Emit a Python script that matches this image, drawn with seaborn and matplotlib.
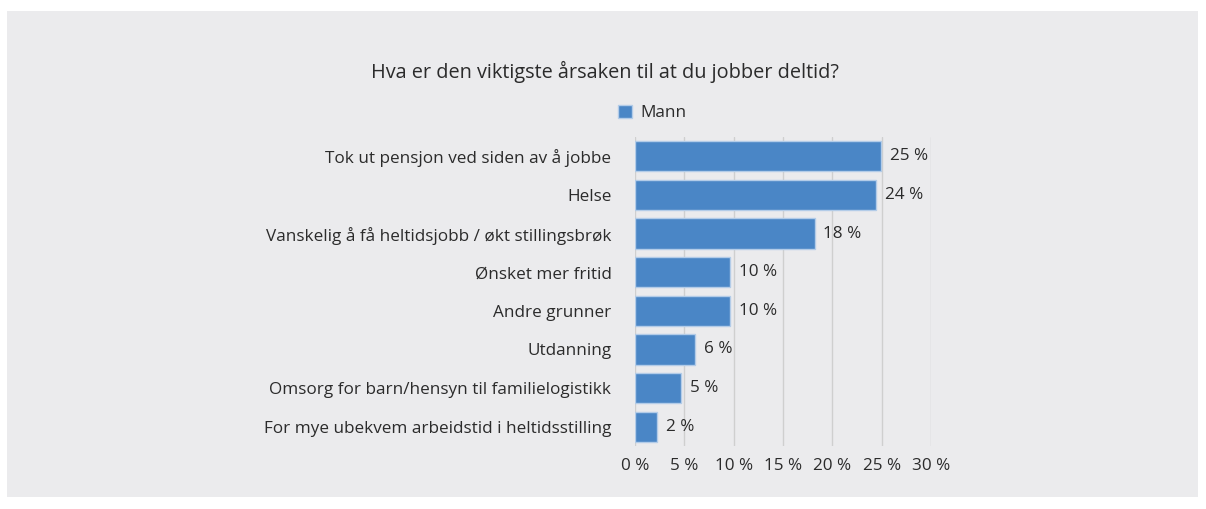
import matplotlib
matplotlib.use('Agg')
import matplotlib.pyplot as plt
import matplotlib.patches as mpatches
import seaborn as sns
import pandas as pd

title = 'Hva er den viktigste årsaken til at du jobber deltid?'
series_name = 'Mann'
categories = [
    'Tok ut pensjon ved siden av å jobbe',
    'Helse',
    'Vanskelig å få heltidsjobb / økt stillingsbrøk',
    'Ønsket mer fritid',
    'Andre grunner',
    'Utdanning',
    'Omsorg for barn/hensyn til familielogistikk',
    'For mye ubekvem arbeidstid i heltidsstilling',
]
values = [24.9, 24.4, 18.2, 9.6, 9.6, 6.1, 4.7, 2.2]
ticks = [0, 5, 10, 15, 20, 25, 30]

df = pd.DataFrame({'kategori': categories, 'andel': values})

sns.set_theme(style='white')
plt.rcParams['font.family'] = ['Open Sans', 'DejaVu Sans']

bg = '#ebebed'
blue = '#4a86c6'
txt = '#2b2b2b'

fig = plt.figure(figsize=(12.06, 5.09), dpi=100)
fig.patch.set_facecolor('white')
fig.add_artist(mpatches.Rectangle((7 / 1206, 12 / 509), 1191 / 1206, 486 / 509,
                                  transform=fig.transFigure, facecolor=bg,
                                  edgecolor='none', zorder=-10))

ax = fig.add_axes([635 / 1206, 63 / 509, 296 / 1206, 309 / 509])
ax.set_facecolor(bg)
sns.barplot(data=df, y='kategori', x='andel', color=blue, orient='h',
            width=0.78, saturation=1, edgecolor='#b3cce8', linewidth=1,
            ax=ax, zorder=3, label=series_name)

ax.set_xlim(0, 30)
ax.set_xticks(ticks)
ax.set_xticklabels([f'{t} %' for t in ticks], fontsize=12.3, color=txt)
ax.tick_params(axis='y', labelsize=12.3, colors=txt, length=0, pad=17)
ax.tick_params(axis='x', length=0, pad=9)
ax.grid(axis='x', color='#cfcfcf', linewidth=1, zorder=0)
for s in ax.spines.values():
    s.set_visible(False)
ax.set_xlabel('')
ax.set_ylabel('')

for i, v in enumerate(values):
    ax.text(v + 0.9, i, f'{round(v)} %', va='center', ha='left',
            fontsize=12.3, color=txt, zorder=4)

fig.text(605 / 1206, 1 - 72 / 509, title, ha='center', va='center',
         fontsize=14.3, color=txt)
leg = ax.legend(loc='center', bbox_to_anchor=(652 / 1206, 1 - 113 / 509),
                bbox_transform=fig.transFigure, frameon=False, fontsize=12.3,
                handlelength=0.8, handleheight=0.8, handletextpad=0.5)
for t in leg.get_texts():
    t.set_color(txt)

fig.savefig('out.png', dpi=100, facecolor=fig.get_facecolor())
